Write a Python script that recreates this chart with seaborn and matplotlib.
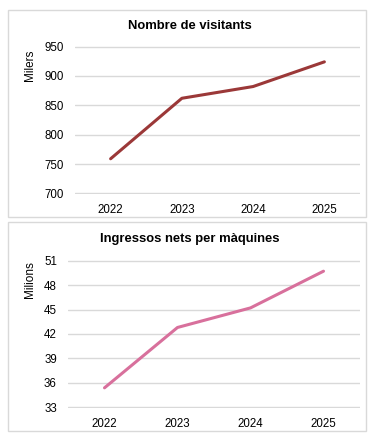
import matplotlib
matplotlib.use("Agg")
import matplotlib.pyplot as plt
import seaborn as sns
import pandas as pd
from matplotlib.patches import Rectangle

# data
years = ["2022", "2023", "2024", "2025"]
visitants = [759, 862, 882, 924]        # milers
ingressos = [35.4, 42.8, 45.2, 49.7]    # milions

sns.set_style("white")
plt.rcParams["font.family"] = ["Liberation Sans", "DejaVu Sans"]
plt.rcParams["text.color"] = "black"

W, H = 373, 438
fig = plt.figure(figsize=(W / 100, H / 100), dpi=100)

def fbox(x0, y0, x1, y1):
    # pixel box (top-left origin) -> figure fraction rect
    return [x0 / W, 1 - y1 / H, (x1 - x0) / W, (y1 - y0) / H]

# panel borders
for (x0, y0, x1, y1) in [(8, 10, 366, 217), (8, 222, 366, 431)]:
    r = fbox(x0, y0, x1, y1)
    fig.patches.append(Rectangle((r[0], r[1]), r[2], r[3], transform=fig.transFigure,
                                 fill=False, edgecolor="#d9d9d9", linewidth=1))

def panel(box, values, color, ylim, yticks, title, title_y, ylabel, ylabel_y):
    ax = fig.add_axes(fbox(*box))
    df = pd.DataFrame({"year": years, "value": values})
    sns.lineplot(data=df, x="year", y="value", ax=ax, color=color, linewidth=2.2)
    ax.set_xlim(-0.5, 3.5)
    pad = (ylim[1] - ylim[0]) * 0.004
    ax.set_ylim(ylim[0] - pad, ylim[1] + pad)
    ax.set_yticks(yticks)
    ax.yaxis.grid(True, color="#d9d9d9", linewidth=1)
    ax.set_axisbelow(True)
    for s in ax.spines.values():
        s.set_visible(False)
    ax.tick_params(axis="both", length=0, labelsize=8.3, colors="black")
    ax.tick_params(axis="x", pad=7)
    ax.tick_params(axis="y", pad=8)
    ax.set_xlabel("")
    ax.set_ylabel("")
    fig.text(190 / W, 1 - title_y / H, title, ha="center", va="center",
             fontsize=9.4, fontweight="bold", color="black")
    fig.text(30 / W, 1 - ylabel_y / H, ylabel, ha="center", va="center",
             rotation=90, fontsize=8.5, color="black")
    return ax

panel((75, 46, 360, 194), visitants, "#9b3838", (700, 950),
      [700, 750, 800, 850, 900, 950], "Nombre de visitants", 26, "Milers", 65)
panel((68, 260, 360, 408), ingressos, "#d8709c", (33, 51),
      [33, 36, 39, 42, 45, 48, 51], "Ingressos nets per màquines", 239, "Milions", 280)

fig.savefig("out.png", dpi=100)
